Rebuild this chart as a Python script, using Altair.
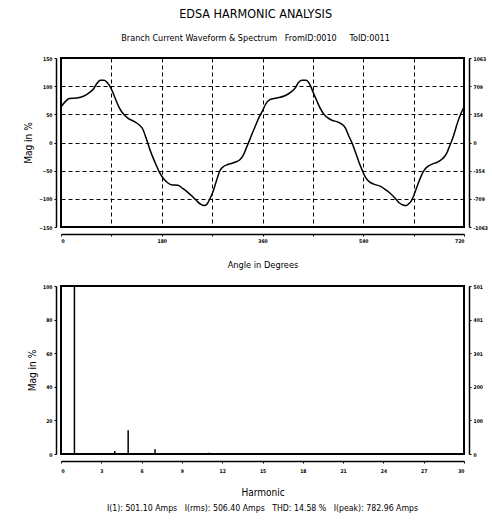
import altair as alt
import pandas as pd

# ---------------- data ----------------
angle = [0, 8, 15, 28, 40, 50, 58, 65, 70, 77, 83, 90, 97, 104, 112, 120, 131, 140,
         146, 152, 158, 164, 170, 176, 183, 190, 197, 209, 218, 226, 234, 242, 250,
         256, 261, 266, 272, 278, 284, 290, 298, 311, 320, 326, 331, 336, 342, 348,
         354, 360, 365, 373, 385, 400, 410, 418, 424, 430, 438, 444, 451, 457, 463,
         469, 475, 485, 493, 501, 508, 514, 520, 526, 532, 538, 544, 551, 559, 571,
         580, 589, 597, 604, 611, 616, 621, 625, 630, 634, 640, 645, 649, 656, 664,
         672, 679, 686, 690, 694, 700, 705, 709, 714, 720]
mag_pct = [63, 73, 78, 79, 82, 88, 95, 106, 110.5, 110.5, 106, 95, 78, 62, 50, 43, 37, 31,
           24, 8, -10, -26, -40, -53, -64, -71, -75, -76, -82, -88, -95, -103, -110,
           -112, -109, -100, -86, -67, -50, -43, -39, -35, -30, -22, -10, 2, 17, 31,
           45, 56, 67, 76, 79, 83, 89, 96, 106, 110.5, 110.5, 104, 88, 74, 61,
           51, 45, 39, 37, 33, 26, 12, -1, -17, -34, -49, -62, -70, -74, -78,
           -84, -91, -99, -107, -111, -112, -109, -105, -95, -84, -68, -56, -49, -42, -38,
           -35, -31, -24, -17, -7, 8, 24, 37, 50, 63]

harmonic = [1, 4, 5, 6, 7, 11, 13, 17, 19]
harm_pct = [100, 1.8, 14.2, 0.4, 2.8, 0.7, 0.6, 0.4, 0.5]

top_left_ticks = [-150, -100, -50, 0, 50, 100, 150]
top_right_labels = ["-1063", "-709", "-354", "0", "354", "709", "1063"]
angle_ticks = [0, 90, 180, 270, 360, 450, 540, 630, 720]
angle_labels = ["0", "", "180", "", "360", "", "540", "", "720"]

bot_left_ticks = [0, 20, 40, 60, 80, 100]
bot_right_labels = ["0", "100", "200", "301", "401", "501"]
harm_ticks = [0, 3, 6, 9, 12, 15, 18, 21, 24, 27, 30]

NB = "\u00a0"
title_text = "EDSA HARMONIC ANALYSIS"
subtitle_text = f"Branch Current Waveform & Spectrum{NB*3}FromID:0010{NB*5}ToID:0011"
footer_text = (f"I(1): 501.10 Amps{NB*3}I(rms): 506.40 Amps{NB*3}THD: 14.58 %"
               f"{NB*3}I(peak): 782.96 Amps")

FONT = "'Liberation Sans Narrow', 'DejaVu Sans Condensed', 'Liberation Sans', Arial, sans-serif"


def label_expr(values, labels):
    expr = "''"
    for v, l in zip(values, labels):
        expr = f"datum.value == {v} ? '{l}' : ({expr})"
    return expr


wave = pd.DataFrame({"angle": angle, "mag": mag_pct})
spec = pd.DataFrame({"h": harmonic, "m": harm_pct})

common_axis = dict(labelFont=FONT, labelFontSize=5, labelFontWeight="bold",
                   titleFont=FONT, titleFontWeight="normal", domainColor="black",
                   domainWidth=1.5, tickColor="black", tickSize=2, labelColor="black",
                   titleColor="black")

# ---------------- top chart ----------------
x_top = alt.X("angle:Q", scale=alt.Scale(domain=[0, 720], nice=False, zero=False),
              axis=alt.Axis(values=angle_ticks, labelExpr=label_expr(angle_ticks, angle_labels),
                            grid=True, gridDash=[4, 3], gridColor="black", gridWidth=1,
                            gridOpacity=1, title="Angle in Degrees", titleFontSize=9.2,
                            offset=7, titlePadding=17, labelPadding=2, **common_axis))
y_top_scale = alt.Scale(domain=[-150, 150], nice=False)

top_line = alt.Chart(wave).mark_line(color="black", strokeWidth=1.5, interpolate="monotone").encode(
    x=x_top,
    y=alt.Y("mag:Q", scale=y_top_scale,
            axis=alt.Axis(values=top_left_ticks, grid=True, gridDash=[4, 3], gridColor="black",
                          gridWidth=1, gridOpacity=1, title="Mag in %", titleFontSize=10,
                          offset=5, titlePadding=5, labelPadding=2, **common_axis)),
)
top_right = alt.Chart(wave).mark_line(opacity=0).encode(
    x=x_top,
    y=alt.Y("mag:Q", scale=y_top_scale,
            axis=alt.Axis(orient="right", values=top_left_ticks,
                          labelExpr=label_expr(top_left_ticks, top_right_labels),
                          grid=False, title=None, offset=5, labelPadding=2, **common_axis)),
)
top = alt.layer(top_line, top_right).resolve_scale(y="independent").properties(width=403, height=169)

# ---------------- bottom chart ----------------
x_bot = alt.X("h:Q", scale=alt.Scale(domain=[0, 30], nice=False, zero=False),
              axis=alt.Axis(values=harm_ticks, grid=False, title="Harmonic",
                            titleFontSize=10, offset=7, titlePadding=14,
                            labelPadding=5, **common_axis))
y_bot_scale = alt.Scale(domain=[0, 100], nice=False)

bot_bars = alt.Chart(spec).mark_rule(color="black", strokeWidth=1.5).encode(
    x=x_bot,
    y=alt.Y("m:Q", scale=y_bot_scale,
            axis=alt.Axis(values=bot_left_ticks, grid=False, title="Mag in %", titleFontSize=10,
                          offset=5, titlePadding=5, labelPadding=2, **common_axis)),
    y2=alt.Y2(datum=0),
)
bot_right = alt.Chart(spec).mark_rule(opacity=0).encode(
    x=x_bot,
    y=alt.Y("m:Q", scale=y_bot_scale,
            axis=alt.Axis(orient="right", values=bot_left_ticks,
                          labelExpr=label_expr(bot_left_ticks, bot_right_labels),
                          grid=False, title=None, offset=5, labelPadding=2, **common_axis)),
)
bottom = alt.layer(bot_bars, bot_right).resolve_scale(y="independent").properties(
    width=403, height=168,
    title=alt.TitleParams(footer_text, orient="bottom", anchor="middle", font=FONT,
                          fontSize=8.7, fontWeight="normal", color="black", offset=7),
)

chart = alt.vconcat(top, bottom, spacing=12).properties(
    title=alt.TitleParams(title_text, subtitle=subtitle_text, font=FONT, fontSize=12.5,
                          fontWeight="normal", subtitleFont=FONT, subtitleFontSize=9,
                          subtitlePadding=14, anchor="middle", offset=12, color="black",
                          subtitleColor="black"),
    padding={"left": 22, "top": 7, "right": 0, "bottom": 0},
).configure(background="white").configure_view(stroke="black", strokeWidth=2)

chart.save("out.html", embed_options={"renderer": "svg", "actions": False})
